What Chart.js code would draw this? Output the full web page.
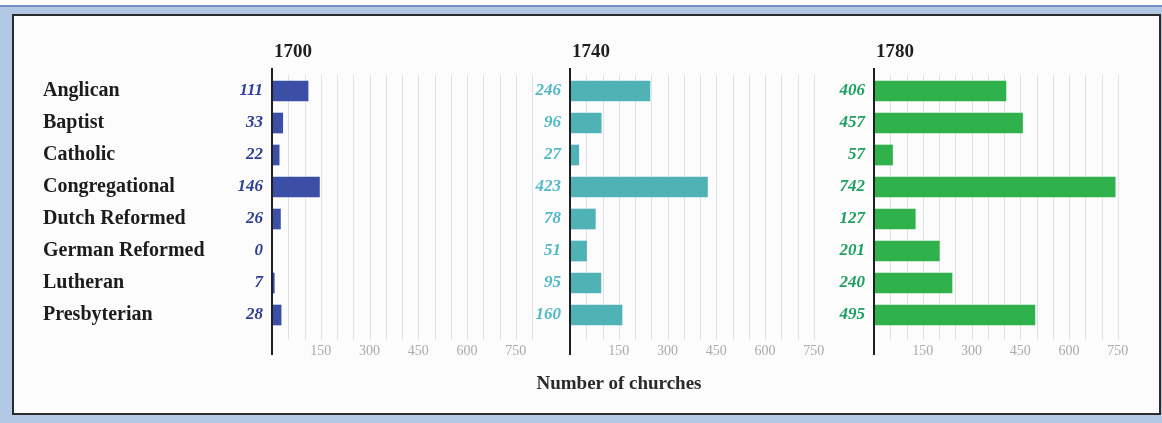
<!DOCTYPE html>
<html>
<head>
<meta charset="utf-8">
<script src="https://cdn.jsdelivr.net/npm/chart.js@4.4.0/dist/chart.umd.min.js"></script>
<style>
  html, body { margin: 0; padding: 0; }
  body { width: 1162px; height: 423px; position: relative; overflow: hidden; background: #fff; }
  .band { position: absolute; left: 0; top: 5px; width: 1162px; height: 418px; background: #b3c8e4; border-top: 2px solid #6f90c0; box-sizing: border-box; }
  .frame { position: absolute; left: 12px; top: 14px; width: 1149px; height: 401px; border: 2px solid #2b2b2e; background: #fcfcfd; box-sizing: border-box; }
  canvas { position: absolute; left: 0; top: 0; }
  .xtitle { position: absolute; left: 469px; width: 300px; top: 372px; text-align: center; font: bold 19px "Liberation Serif", serif; color: #2a2a2a; }
</style>
</head>
<body>
<div class="band"></div>
<div class="frame"></div>
<canvas id="c1700" width="1162" height="423"></canvas>
<canvas id="c1740" width="1162" height="423"></canvas>
<canvas id="c1780" width="1162" height="423"></canvas>
<div class="xtitle">Number of churches</div>

<script>
const denominations = ['Anglican', 'Baptist', 'Catholic', 'Congregational', 'Dutch Reformed', 'German Reformed', 'Lutheran', 'Presbyterian'];
const churches1700 = [111, 33, 22, 146, 26, 0, 7, 28];
const churches1740 = [246, 96, 27, 423, 78, 51, 95, 160];
const churches1780 = [406, 457, 57, 742, 127, 201, 240, 495];
const xTickValues = [150, 300, 450, 600, 750];

// one entry per panel: where it sits and how it is coloured
const panels = [
  {id: 'c1700', title: '1700', values: churches1700, bar: '#3b4fa6', num: '#2e3f98', padLeft: 43, padRight: 630, gridMax: 800, names: true},
  {id: 'c1740', title: '1740', values: churches1740, bar: '#4fb3b6', num: '#54b9c6', padLeft: 510, padRight: 332, gridMax: 750, names: false},
  {id: 'c1780', title: '1780', values: churches1780, bar: '#2fb14b', num: '#1d9f62', padLeft: 814, padRight: 28, gridMax: 750, names: false},
];

const panelDecor = {
  id: 'panelDecor',
  beforeDatasetsDraw(chart, args, opts) {
    const {ctx, chartArea} = chart;
    const x = chart.scales.x;
    ctx.save();
    ctx.strokeStyle = '#e1e2e6';
    ctx.lineWidth = 1;
    for (let v = 50; v <= opts.gridMax; v += 50) {
      const px = Math.round(x.getPixelForValue(v)) + 0.5;
      ctx.beginPath();
      ctx.moveTo(px, chartArea.top);
      ctx.lineTo(px, chartArea.bottom + 9);
      ctx.stroke();
    }
    ctx.restore();
  },
  afterDatasetsDraw(chart, args, opts) {
    const {ctx, chartArea} = chart;
    const x0 = chart.scales.x.getPixelForValue(0);
    ctx.save();
    ctx.strokeStyle = '#1f1f22';
    ctx.lineWidth = 2;
    ctx.beginPath();
    ctx.moveTo(x0, chartArea.top - 7);
    ctx.lineTo(x0, chartArea.bottom + 24);
    ctx.stroke();
    ctx.fillStyle = '#1e1e1e';
    ctx.font = 'bold 19px "Liberation Serif"';
    ctx.textBaseline = 'middle';
    ctx.fillText(opts.title, x0 + 2, 52);
    ctx.restore();
  }
};

function makePanel(p) {
  const scales = {
    x: {
      type: 'linear',
      min: 0,
      max: 800,
      grid: {display: false},
      border: {display: false},
      afterBuildTicks: (scale) => { scale.ticks = xTickValues.map(v => ({value: v})); },
      afterFit: (scale) => { scale.height = 30; },
      ticks: {
        color: '#ababab',
        font: {family: 'Liberation Serif', size: 14},
        padding: 4,
        maxRotation: 0,
        autoSkip: false,
      },
    },
    y: {
      type: 'category',
      position: 'left',
      weight: 0,
      offset: true,
      grid: {display: false, drawTicks: false},
      border: {display: false},
      afterFit: (scale) => { scale.width = 60; },
      ticks: {
        color: p.num,
        font: {family: 'Liberation Serif', size: 17, style: 'italic', weight: 'bold'},
        padding: 9,
        autoSkip: false,
        callback: (v, i) => String(p.values[i]),
      },
    },
  };
  if (p.names) {
    scales.names = {
      type: 'category',
      axis: 'y',
      position: 'left',
      weight: 1,
      offset: true,
      labels: denominations,
      grid: {display: false, drawTicks: false},
      border: {display: false},
      afterFit: (scale) => { scale.width = 169; },
      ticks: {
        color: '#1c1c1c',
        font: {family: 'Liberation Serif', size: 20, weight: 'bold'},
        crossAlign: 'far',
        padding: 0,
        autoSkip: false,
      },
    };
  }

  return new Chart(document.getElementById(p.id).getContext('2d'), {
    type: 'bar',
    data: {
      labels: denominations,
      datasets: [{
        data: p.values,
        backgroundColor: p.bar,
        borderWidth: 0,
        barThickness: 20,
      }],
    },
    options: {
      indexAxis: 'y',
      responsive: false,
      animation: false,
      devicePixelRatio: 1,
      layout: {padding: {left: p.padLeft, right: p.padRight, top: 75, bottom: 62}},
      scales,
      plugins: {
        legend: {display: false},
        tooltip: {enabled: false},
        panelDecor: {gridMax: p.gridMax, title: p.title},
      },
    },
    plugins: [panelDecor],
  });
}

panels.forEach(makePanel);
</script>
</body>
</html>
